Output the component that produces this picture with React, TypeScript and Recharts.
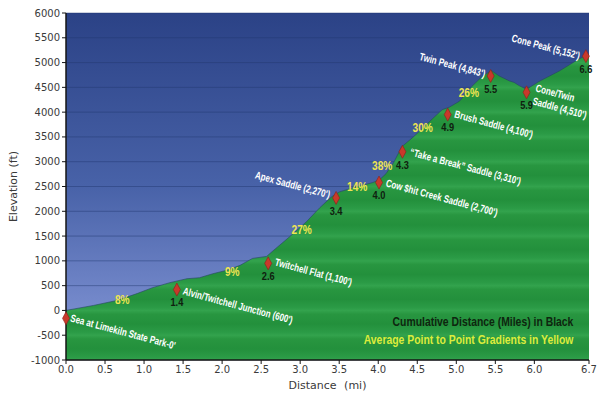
import React from 'react';
import { ComposedChart, Area, Scatter, XAxis, YAxis, CartesianGrid } from 'recharts';

// Terrain profile (distance in miles, elevation in feet)
const profileDist = [0, 0.35, 0.65, 0.91, 1.11, 1.33, 1.55, 1.71, 1.88, 2.06, 2.23, 2.39, 2.57, 2.65, 2.86, 3.08, 3.25, 3.4, 3.5, 3.67, 3.93, 4.02, 4.1, 4.2, 4.3, 4.45, 4.69, 4.82, 4.91, 5.04, 5.2, 5.33, 5.45, 5.55, 5.68, 5.74, 5.81, 5.9, 6.06, 6.32, 6.57, 6.7];
const profileElev = [0, 100, 200, 340, 460, 560, 640, 660, 740, 810, 910, 1050, 1090, 1200, 1480, 1790, 2070, 2290, 2390, 2470, 2580, 2640, 2760, 2990, 3300, 3500, 3860, 4050, 4100, 4220, 4520, 4720, 4840, 4730, 4630, 4600, 4530, 4460, 4620, 4830, 5070, 5170];

// Red diamond markers with cumulative distance labels
const markerDist = [0, 1.42, 2.59, 3.46, 4.01, 4.31, 4.89, 5.44, 5.9, 6.66];
const markerElev = [-160, 420, 950, 2270, 2580, 3200, 3950, 4730, 4400, 5130];
const markerText = ['', '1.4', '2.6', '3.4', '4.0', '4.3', '4.9', '5.5', '5.9', '6.6'];

// Place names
const placeNames = [
  'Sea at Limekiln State Park-0\'',
  'Alvin/Twitchell Junction (600\')',
  'Twitchell Flat (1,100\')',
  'Apex Saddle (2,270\')',
  'Cow $hit Creek Saddle (2,700\')',
  '\u201CTake a Break\u201D Saddle (3,310\')',
  'Brush Saddle (4,100\')',
  'Twin Peak (4,843\')',
  'Cone/Twin',
  'Saddle (4,510\')',
  'Cone Peak (5,152\')',
];
const placeDist = [0.06, 1.5, 2.68, 3.38, 4.1, 4.41, 4.98, 5.37, 6.02, 5.98, 6.58];
const placeElev = [-153, 391, 976, 2328, 2570, 3195, 3961, 4768, 4486, 4224, 5131];
const placeAlign = ['start', 'start', 'start', 'end', 'start', 'start', 'start', 'end', 'start', 'start', 'end'];

// Average gradients (yellow)
const gradeText = ['8%', '9%', '27%', '14%', '38%', '30%', '26%'];
const gradeDist = [0.72, 2.13, 3.02, 3.73, 4.05, 4.57, 5.16];
const gradeElev = [230, 797, 1646, 2510, 2930, 3700, 4405];

// Notes
const noteText = ['Cumulative Distance (Miles) in Black', 'Average Point to Point Gradients in Yellow'];
const noteDist = [6.5, 6.5];
const noteElev = [-214, -577];

const xTicks = [0, 0.5, 1, 1.5, 2, 2.5, 3, 3.5, 4, 4.5, 5, 5.5, 6, 6.7];
const yTicks = [-1000, -500, 0, 500, 1000, 1500, 2000, 2500, 3000, 3500, 4000, 4500, 5000, 5500, 6000];

const profile = profileDist.map((d, i) => ({ dist: d, elev: profileElev[i] }));
const markers = markerDist.map((d, i) => ({ dist: d, elev: markerElev[i], text: markerText[i] }));
const places = placeDist.map((d, i) => ({ dist: d, elev: placeElev[i], text: placeNames[i], align: placeAlign[i] }));
const grades = gradeDist.map((d, i) => ({ dist: d, elev: gradeElev[i], text: gradeText[i] }));
const notes = noteDist.map((d, i) => ({ dist: d, elev: noteElev[i], text: noteText[i], idx: i }));

const SANS = '"Liberation Sans", Arial, sans-serif';
const TICK_FONT = '"DejaVu Sans", Verdana, sans-serif';

const Diamond = (props: any) => {
  const { cx, cy, payload } = props;
  if (cx == null || cy == null) return null;
  return (
    <g>
      <polygon
        points={`${cx},${cy - 6.5} ${cx + 3.5},${cy} ${cx},${cy + 6.5} ${cx - 3.5},${cy}`}
        fill="#c8392b"
        stroke="#8e1f17"
        strokeWidth={0.6}
      />
      {payload.text ? (
        <text
          transform={`translate(${cx},${cy + 13}) scale(0.88,1)`}
          textAnchor="middle"
          dominantBaseline="central"
          fontFamily={SANS}
          fontWeight="bold"
          fontSize={10.5}
          fill="#0f200f"
        >
          {payload.text}
        </text>
      ) : null}
    </g>
  );
};

const PlaceLabel = (props: any) => {
  const { cx, cy, payload } = props;
  if (cx == null || cy == null) return null;
  return (
    <text
      transform={`translate(${cx},${cy}) rotate(15) scale(0.76,1)`}
      textAnchor={payload.align}
      dominantBaseline="central"
      fontFamily={SANS}
      fontWeight="bold"
      fontSize={10.5}
      fill="#ffffff"
    >
      {payload.text}
    </text>
  );
};

const GradeLabel = (props: any) => {
  const { cx, cy, payload } = props;
  if (cx == null || cy == null) return null;
  return (
    <text
      transform={`translate(${cx},${cy}) scale(0.78,1)`}
      textAnchor="middle"
      dominantBaseline="central"
      fontFamily={SANS}
      fontWeight="bold"
      fontSize={13}
      fill="#eee552"
    >
      {payload.text}
    </text>
  );
};

const NoteLabel = (props: any) => {
  const { cx, cy, payload } = props;
  if (cx == null || cy == null) return null;
  return (
    <text
      transform={`translate(${cx},${cy}) scale(0.8,1)`}
      textAnchor="end"
      dominantBaseline="central"
      fontFamily={SANS}
      fontWeight="bold"
      fontSize={13}
      fill={payload.idx === 0 ? '#0e260f' : '#dcec3c'}
    >
      {payload.text}
    </text>
  );
};

export default function App() {
  return (
    <div style={{ position: 'absolute', left: 0, top: 0, width: 600, height: 394, background: '#ffffff' }}>
      <ComposedChart
        width={600}
        height={394}
        data={profile}
        margin={{ top: 13, right: 11, bottom: 0, left: 0 }}
      >
        <defs>
          <linearGradient id="skyGrad" x1="0" y1="0" x2="0" y2="1">
            <stop offset="0" stopColor="#2b4286" />
            <stop offset="0.5" stopColor="#4862a8" />
            <stop offset="1" stopColor="#899bdb" />
          </linearGradient>
          <linearGradient
            id="greenGrad"
            gradientUnits="userSpaceOnUse"
            x1="0"
            y1="13"
            x2="0"
            y2="37.79"
            spreadMethod="repeat"
          >
            <stop offset="0" stopColor="#33a34d" />
            <stop offset="0.15" stopColor="#289640" />
            <stop offset="0.55" stopColor="#23903c" />
            <stop offset="0.88" stopColor="#2b9b46" />
            <stop offset="1" stopColor="#33a34d" />
          </linearGradient>
        </defs>
        <CartesianGrid
          vertical={false}
          fill="url(#skyGrad)"
          stroke="#22376f"
          strokeOpacity={0.45}
        />
        <XAxis
          dataKey="dist"
          type="number"
          domain={[0, 6.7]}
          ticks={xTicks}
          interval={0}
          height={34}
          tickSize={4}
          tickFormatter={(v: number) => v.toFixed(1)}
          tick={{ fontFamily: TICK_FONT, fontSize: 10, fill: '#3a3a3a' }}
          axisLine={{ stroke: '#141414', strokeWidth: 1.5 }}
          tickLine={{ stroke: '#141414' }}
          label={{
            value: 'Distance  (mi)',
            position: 'insideBottom',
            offset: 5,
            style: { fontFamily: TICK_FONT, fontSize: 11, fill: '#3a3a3a', wordSpacing: 4 },
          }}
        />
        <YAxis
          type="number"
          domain={[-1000, 6000]}
          ticks={yTicks}
          interval={0}
          width={66}
          tickSize={4}
          tick={{ fontFamily: TICK_FONT, fontSize: 10, fill: '#3a3a3a' }}
          axisLine={{ stroke: '#141414', strokeWidth: 1.5 }}
          tickLine={{ stroke: '#141414' }}
          label={{
            value: 'Elevation (ft)',
            angle: -90,
            position: 'insideLeft',
            offset: 13,
            style: { fontFamily: TICK_FONT, fontSize: 11, fill: '#3a3a3a', textAnchor: 'middle' },
          }}
        />
        <Area
          type="linear"
          dataKey="elev"
          baseValue={-1000}
          fill="url(#greenGrad)"
          fillOpacity={1}
          stroke="#24475f"
          strokeWidth={1}
          strokeOpacity={0.6}
          isAnimationActive={false}
          dot={false}
          activeDot={false}
        />
        <Scatter data={places} dataKey="elev" shape={PlaceLabel} isAnimationActive={false} />
        <Scatter data={grades} dataKey="elev" shape={GradeLabel} isAnimationActive={false} />
        <Scatter data={notes} dataKey="elev" shape={NoteLabel} isAnimationActive={false} />
        <Scatter data={markers} dataKey="elev" shape={Diamond} isAnimationActive={false} />
      </ComposedChart>
    </div>
  );
}
